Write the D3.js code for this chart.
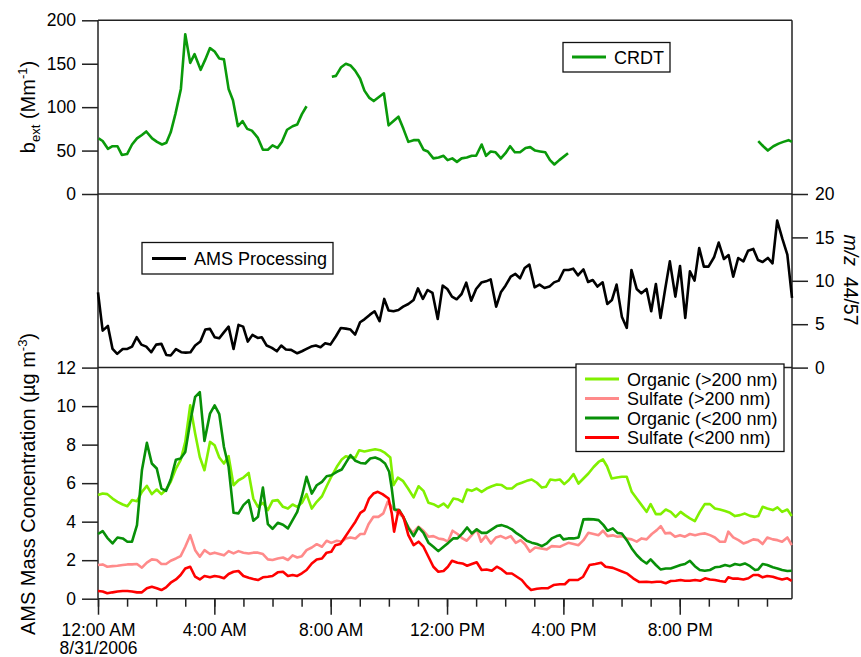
<!DOCTYPE html>
<html>
<head>
<meta charset="utf-8">
<script src="https://cdn.jsdelivr.net/npm/d3@7"></script>
<style>
  body { margin: 0; background: #fff; }
  svg text { font-family: "Liberation Sans", Arial, Helvetica, sans-serif; fill: #000; }
</style>
</head>
<body>
<div id="chart"></div>
<script>
// each point is [hours after midnight 8/31/2006, value]; null = no data
const crdt = [[0.02,64],[0.16,61],[0.34,52],[0.5,55],[0.67,55],[0.82,45],[1.0,46],[1.17,57],[1.34,64],[1.51,68],[1.66,72],[1.86,64],[2.03,60],[2.2,57],[2.35,59],[2.5,71],[2.66,92],[2.85,121],[3.0,184],[3.17,151],[3.32,161],[3.53,143],[3.69,155],[3.85,168],[4.01,164],[4.17,156],[4.33,155],[4.49,121],[4.64,108],[4.81,78],[4.97,84],[5.13,75],[5.29,73],[5.49,65],[5.67,51],[5.84,51],[6.0,56],[6.17,53],[6.32,60],[6.5,74],[6.69,78],[6.85,80],[7.01,92],[7.17,101],
  [7.6,null],
  [8.04,135],[8.18,136],[8.36,146],[8.52,150],[8.68,148],[8.84,142],[9.01,133],[9.16,119],[9.32,111],[9.48,107],[9.67,112],[9.83,116],[9.99,79],[10.16,84],[10.33,89],[10.5,75],[10.67,60],[10.85,62],[11.02,62],[11.19,51],[11.34,49],[11.53,41],[11.71,42],[11.88,44],[12.02,39],[12.18,41],[12.34,37],[12.5,41],[12.68,42],[12.85,44],[13.0,44],[13.19,57],[13.34,44],[13.5,49],[13.67,48],[13.85,41],[14.01,47],[14.17,55],[14.33,48],[14.51,48],[14.7,53],[14.86,54],[15.03,50],[15.2,49],[15.38,48],[15.54,39],[15.69,34],[15.86,39],[16.16,47],
  [19.0,null],
  [22.70,61],[22.87,55],[23.03,50],[23.22,55],[23.40,58],[23.56,60],[23.74,62],[23.86,60]];

const amsProcessing = [[0,8.67],[0.16,4.26],[0.34,4.8],[0.5,2.15],[0.66,1.58],[0.85,2.15],[1.01,2.15],[1.17,2.42],[1.33,3.5],[1.49,2.65],[1.66,2.42],[1.83,1.77],[2.0,2.65],[2.18,2.73],[2.35,1.46],[2.5,1.39],[2.68,2.12],[2.86,1.77],[3.02,1.73],[3.18,1.77],[3.34,2.54],[3.52,3.0],[3.69,4.38],[3.85,4.46],[4.01,3.5],[4.17,3.38],[4.32,4.03],[4.49,4.72],[4.66,2.15],[4.83,4.92],[4.99,4.72],[5.15,3.0],[5.31,3.77],[5.49,3.42],[5.63,3.5],[5.8,2.54],[5.98,2.27],[6.15,1.88],[6.3,2.54],[6.46,2.08],[6.64,2.04],[6.85,1.65],[7.01,1.88],[7.17,2.15],[7.33,2.42],[7.49,2.54],[7.65,2.34],[7.81,2.8],[7.99,2.65],[8.18,3.61],[8.35,4.57],[8.52,4.49],[8.68,4.38],[8.84,3.8],[9.01,5.22],[9.16,5.56],[9.35,6.1],[9.51,6.49],[9.68,5.34],[9.84,7.91],[9.99,6.57],[10.16,6.49],[10.33,6.64],[10.49,7.02],[10.67,7.33],[10.85,7.79],[11.0,9.13],[11.17,7.91],[11.33,8.94],[11.5,8.6],[11.68,5.6],[11.85,9.44],[12.01,9.06],[12.17,8.18],[12.33,7.87],[12.5,8.48],[12.66,9.79],[12.83,7.71],[13.0,9.06],[13.18,9.79],[13.34,9.94],[13.5,10.17],[13.69,7.02],[13.85,8.67],[14.01,9.44],[14.19,10.48],[14.35,10.79],[14.51,10.29],[14.67,11.48],[14.83,11.86],[15.01,9.25],[15.18,9.56],[15.35,9.17],[15.52,9.33],[15.68,9.82],[15.84,10.02],[16.02,11.25],[16.18,11.25],[16.34,11.4],[16.5,10.63],[16.69,11.32],[16.85,9.86],[17.01,10.09],[17.17,9.33],[17.35,9.82],[17.51,7.33],[17.67,7.79],[17.83,9.56],[18.01,5.87],[18.18,4.57],[18.34,11.25],[18.52,9.06],[18.68,8.56],[18.86,9.06],[19.02,6.49],[19.18,9.63],[19.34,5.72],[19.5,9.06],[19.66,12.24],[19.85,8.18],[20.01,11.71],[20.19,5.72],[20.35,11.09],[20.51,10.02],[20.67,13.78],[20.83,11.63],[20.99,11.63],[21.18,12.71],[21.34,14.4],[21.52,12.51],[21.68,12.97],[21.84,10.48],[22.01,12.63],[22.19,12.24],[22.35,13.47],[22.53,13.67],[22.69,12.4],[22.85,12.17],[23.03,12.63],[23.19,12.01],[23.35,16.93],[23.53,14.82],[23.7,13.01],[23.86,8.02]];

const organicLarge = [[0,5.38],[0.16,5.46],[0.32,5.43],[0.5,5.2],[0.67,5.03],[0.85,4.89],[1.01,4.8],[1.17,5.12],[1.34,5.06],[1.51,5.55],[1.68,5.86],[1.85,5.43],[2.02,5.67],[2.18,5.43],[2.34,5.67],[2.5,6.07],[2.68,6.76],[2.84,7.19],[3.0,8.14],[3.17,10.04],[3.34,8.58],[3.5,7.36],[3.66,6.67],[3.85,8.14],[4.01,7.97],[4.17,7.33],[4.33,7.02],[4.49,7.4],[4.66,5.89],[4.83,6.15],[5.0,6.29],[5.18,6.53],[5.34,5.2],[5.5,4.77],[5.67,4.98],[5.84,4.6],[6.0,5.08],[6.18,5.12],[6.36,4.77],[6.53,4.68],[6.69,4.89],[6.85,4.77],[7.01,4.98],[7.17,5.43],[7.35,4.68],[7.52,5.03],[7.7,5.32],[7.86,5.84],[8.02,6.33],[8.21,6.85],[8.38,7.23],[8.52,7.4],[8.68,7.33],[8.85,7.33],[8.98,7.71],[9.16,7.64],[9.36,7.71],[9.53,7.76],[9.7,7.71],[9.87,7.57],[10.05,7.33],[10.16,5.9],[10.31,6.29],[10.48,6.12],[10.66,5.72],[10.85,5.26],[11.02,5.84],[11.19,5.6],[11.36,4.98],[11.53,4.91],[11.7,4.77],[11.88,4.94],[12.03,4.74],[12.22,5.2],[12.39,5.15],[12.53,5.03],[12.69,5.67],[12.85,5.6],[13.02,5.72],[13.19,5.55],[13.36,5.72],[13.54,5.84],[13.71,5.93],[13.88,5.9],[14.05,5.72],[14.23,5.72],[14.4,5.93],[14.57,6.02],[14.74,6.12],[14.91,6.19],[15.09,6.02],[15.26,5.77],[15.4,5.81],[15.55,6.19],[15.72,6.15],[15.88,6.19],[16.03,5.95],[16.19,6.16],[16.35,6.47],[16.52,5.98],[16.69,6.24],[16.86,6.5],[17.04,6.84],[17.21,7.1],[17.36,7.23],[17.5,6.88],[17.66,6.24],[17.84,6.29],[18.01,6.33],[18.18,6.33],[18.35,5.55],[18.52,5.2],[18.69,4.86],[18.86,4.51],[19.0,4.91],[19.18,4.39],[19.34,4.39],[19.52,4.63],[19.69,4.51],[19.86,4.25],[20.03,4.51],[20.18,4.34],[20.35,4.17],[20.52,4.03],[20.69,4.51],[20.86,4.91],[21.04,4.91],[21.21,4.68],[21.38,4.63],[21.56,4.55],[21.73,4.46],[21.9,4.29],[22.07,4.34],[22.24,4.42],[22.42,4.3],[22.59,4.25],[22.7,4.29],[22.85,4.77],[23.01,4.68],[23.2,4.6],[23.36,4.74],[23.52,4.51],[23.7,4.63],[23.85,4.29]];

const sulfateLarge = [[0,1.75],[0.16,1.78],[0.32,1.66],[0.5,1.69],[0.67,1.71],[0.85,1.75],[1.01,1.78],[1.17,1.78],[1.34,1.8],[1.51,1.61],[1.68,1.87],[1.85,2.04],[2.02,2.01],[2.18,1.8],[2.34,1.8],[2.5,1.97],[2.68,2.09],[2.84,2.21],[3.0,2.7],[3.17,3.3],[3.34,2.52],[3.5,2.18],[3.66,2.52],[3.85,2.32],[4.01,2.39],[4.17,2.32],[4.33,2.25],[4.49,2.47],[4.66,2.35],[4.83,2.47],[5.0,2.39],[5.18,2.35],[5.34,2.39],[5.5,2.39],[5.67,2.32],[5.84,2.04],[6.0,2.01],[6.18,2.09],[6.36,2.14],[6.53,2.01],[6.69,2.25],[6.85,2.14],[7.01,2.21],[7.17,2.52],[7.35,2.66],[7.52,2.83],[7.7,2.7],[7.86,3.01],[8.02,2.9],[8.21,3.01],[8.38,2.96],[8.52,3.13],[8.68,3.18],[8.85,3.13],[9.02,3.36],[9.16,3.36],[9.3,3.87],[9.47,4.25],[9.64,4.25],[9.81,4.43],[9.96,5.03],[10.1,4.77],[10.27,4.51],[10.48,4.25],[10.66,3.74],[10.82,3.42],[11.02,3.74],[11.19,3.53],[11.36,3.22],[11.53,3.25],[11.7,3.13],[11.88,3.08],[12.03,2.96],[12.19,3.53],[12.36,3.36],[12.53,3.13],[12.68,3.01],[12.85,3.3],[13.02,3.6],[13.17,2.96],[13.33,3.25],[13.51,2.87],[13.68,3.18],[13.85,3.25],[14.02,3.13],[14.19,3.25],[14.36,2.9],[14.53,3.04],[14.68,2.83],[14.85,2.44],[15.03,2.66],[15.23,2.61],[15.43,2.56],[15.6,2.73],[15.88,2.7],[16.0,2.78],[16.17,2.9],[16.35,2.84],[16.52,2.78],[16.69,3.04],[16.86,3.42],[17.04,3.36],[17.21,3.3],[17.36,3.53],[17.52,3.25],[17.7,3.29],[17.86,3.22],[18.01,3.25],[18.18,3.13],[18.35,3.08],[18.52,2.96],[18.69,3.13],[18.86,3.08],[19.04,3.36],[19.21,3.56],[19.35,3.77],[19.5,3.39],[19.67,3.42],[19.84,3.22],[20.01,3.3],[20.18,3.22],[20.35,3.36],[20.53,3.3],[20.7,3.36],[20.87,3.39],[21.04,3.3],[21.21,3.18],[21.38,2.96],[21.56,2.96],[21.67,3.48],[21.84,3.18],[22.02,3.04],[22.19,2.87],[22.36,2.96],[22.53,3.08],[22.7,3.04],[22.85,2.84],[23.01,3.18],[23.2,3.08],[23.36,3.04],[23.52,2.96],[23.7,3.18],[23.85,2.78]];

const organicSmall = [[0,3.36],[0.16,3.51],[0.32,3.16],[0.5,2.87],[0.67,3.18],[0.85,3.13],[1.01,2.96],[1.17,2.96],[1.34,3.82],[1.51,6.67],[1.68,8.09],[1.85,7.02],[2.02,6.76],[2.18,5.72],[2.34,5.6],[2.5,6.19],[2.68,7.22],[2.84,7.28],[3.0,7.62],[3.17,9.18],[3.34,10.48],[3.5,10.72],[3.66,8.19],[3.85,9.61],[4.01,10.04],[4.17,9.58],[4.33,7.88],[4.49,6.85],[4.66,4.46],[4.83,4.43],[5.0,4.86],[5.18,5.12],[5.34,4.05],[5.5,4.25],[5.67,5.77],[5.84,3.87],[6.0,3.63],[6.18,3.94],[6.36,3.84],[6.53,3.65],[6.69,4.08],[6.85,4.51],[7.01,5.32],[7.17,6.33],[7.35,5.46],[7.52,5.89],[7.7,6.07],[7.86,6.36],[8.02,6.41],[8.21,6.59],[8.38,6.71],[8.52,7.05],[8.68,7.45],[8.85,7.16],[9.02,7.05],[9.19,7.02],[9.36,7.28],[9.53,7.33],[9.7,7.23],[9.87,7.02],[10.01,6.59],[10.1,5.72],[10.19,4.63],[10.36,4.6],[10.52,4.17],[10.68,3.65],[10.85,3.25],[11.02,3.7],[11.19,3.42],[11.36,2.91],[11.53,2.7],[11.7,2.47],[11.88,2.7],[12.05,2.91],[12.21,3.13],[12.36,3.13],[12.53,3.39],[12.69,3.7],[12.85,3.39],[13.02,3.6],[13.19,3.42],[13.36,3.42],[13.54,3.6],[13.71,3.77],[13.88,3.82],[14.05,3.74],[14.23,3.6],[14.4,3.39],[14.57,3.22],[14.74,3.01],[14.91,2.91],[15.09,2.84],[15.26,2.73],[15.43,2.87],[15.6,3.13],[15.77,3.25],[15.88,3.3],[16.0,3.08],[16.17,3.13],[16.35,3.13],[16.52,3.18],[16.69,4.12],[16.86,4.13],[17.04,4.12],[17.21,4.08],[17.38,3.82],[17.52,3.53],[17.7,3.65],[17.86,3.42],[18.01,3.39],[18.18,3.04],[18.35,2.61],[18.52,2.27],[18.69,2.01],[18.86,1.83],[19.0,2.04],[19.18,1.75],[19.34,1.52],[19.52,1.57],[19.69,1.57],[19.86,1.66],[20.03,1.75],[20.18,1.8],[20.35,1.97],[20.52,1.69],[20.69,1.49],[20.86,1.45],[21.04,1.49],[21.21,1.63],[21.38,1.66],[21.56,1.75],[21.73,1.69],[21.9,1.8],[22.07,1.75],[22.24,1.83],[22.42,1.69],[22.59,1.49],[22.7,1.52],[22.85,1.8],[23.01,1.75],[23.2,1.63],[23.36,1.57],[23.52,1.49],[23.7,1.44],[23.85,1.45]];

const sulfateSmall = [[0,0.4],[0.16,0.37],[0.32,0.28],[0.5,0.33],[0.67,0.37],[0.85,0.4],[1.01,0.4],[1.17,0.37],[1.34,0.33],[1.51,0.33],[1.68,0.54],[1.85,0.62],[2.02,0.54],[2.18,0.45],[2.34,0.59],[2.5,0.83],[2.68,1.0],[2.84,1.23],[3.0,1.57],[3.17,1.66],[3.34,1.14],[3.5,1.0],[3.66,1.18],[3.85,1.11],[4.01,1.18],[4.17,1.14],[4.33,1.06],[4.49,1.28],[4.66,1.4],[4.83,1.44],[5.0,1.18],[5.18,1.09],[5.34,1.02],[5.5,0.97],[5.67,1.11],[5.84,1.14],[6.0,1.18],[6.18,1.37],[6.36,1.4],[6.53,1.18],[6.69,1.23],[6.85,1.18],[7.01,1.32],[7.17,1.49],[7.35,1.83],[7.52,2.04],[7.7,2.09],[7.86,2.39],[8.02,2.44],[8.16,2.78],[8.33,2.84],[8.5,3.22],[8.67,3.6],[8.85,4.0],[9.02,4.46],[9.16,4.6],[9.32,5.2],[9.47,5.46],[9.62,5.55],[9.78,5.43],[9.99,5.2],[10.1,4.43],[10.18,3.48],[10.33,4.6],[10.5,4.25],[10.67,3.3],[10.85,2.78],[11.02,2.96],[11.19,2.7],[11.36,2.18],[11.53,1.66],[11.7,1.4],[11.88,1.44],[12.03,1.66],[12.17,1.97],[12.36,1.87],[12.53,1.83],[12.69,1.71],[12.85,1.8],[13.02,1.89],[13.19,1.49],[13.36,1.52],[13.54,1.45],[13.71,1.66],[13.88,1.52],[14.05,1.31],[14.23,1.31],[14.4,1.14],[14.57,0.97],[14.74,0.66],[14.89,0.45],[15.09,0.52],[15.26,0.54],[15.46,0.54],[15.66,0.71],[15.88,0.75],[16.05,0.75],[16.2,0.97],[16.5,0.97],[16.68,1.14],[16.9,1.75],[17.1,1.8],[17.3,1.87],[17.45,1.66],[17.7,1.6],[17.95,1.45],[18.2,1.3],[18.4,1.06],[18.6,0.87],[18.86,0.88],[19.04,0.85],[19.21,0.88],[19.35,0.88],[19.52,0.8],[19.69,0.92],[19.86,0.93],[20.03,0.97],[20.18,0.93],[20.35,0.93],[20.53,0.97],[20.7,0.93],[20.87,1.06],[21.04,1.0],[21.21,0.97],[21.38,0.92],[21.56,0.88],[21.67,1.11],[21.84,1.04],[22.02,1.04],[22.19,1.0],[22.36,1.06],[22.53,1.23],[22.7,1.23],[22.85,1.11],[23.01,1.18],[23.2,1.14],[23.36,1.06],[23.52,1.0],[23.7,1.06],[23.85,0.93]];

const bextTicks = [0, 50, 100, 150, 200];
const ratioTicks = [0, 5, 10, 15, 20];
const massTicks = [0, 2, 4, 6, 8, 10, 12];
const massNames = ["Organic (>200 nm)", "Sulfate (>200 nm)", "Organic (<200 nm)", "Sulfate (<200 nm)"];
const massData = [organicLarge, sulfateLarge, organicSmall, sulfateSmall];
const massColors = ["#80f000", "#ff8a8a", "#089008", "#ff0000"];
const crdtColor = "#0a9a0a";
const startDay = new Date(2006, 7, 31, 0, 0);
const endHour = 23.86;

var width = 861, height = 657;
var xLeft = 98, xRight = 792;
var yTop = 20.3, yMid1 = 194, yMid2 = 367.6, yBottom = 598.7;
var frameColor = "#222";

function toDate(h) { return new Date(startDay.getTime() + h * 3600 * 1000); }

var svg = d3.select("#chart").append("svg")
    .attr("width", width)
    .attr("height", height);

// scales
var x = d3.scaleTime().domain([startDay, toDate(endHour)]).range([xLeft, xRight]);
var yBext = d3.scaleLinear().domain([0, 200]).range([yMid1, yTop]);
var yRatio = d3.scaleLinear().domain([0, 20]).range([yMid2, yMid1]);
var yMass = d3.scaleLinear().domain([0, 12]).range([yBottom, yMid2]);

function styleAxis(g, size) {
    g.select(".domain").remove();
    g.selectAll(".tick line").attr("stroke", frameColor).attr("stroke-width", 1.5);
    g.selectAll(".tick text").style("font-size", size || "17.5px").attr("fill", "#000");
}

// left axes
svg.append("g")
    .attr("transform", `translate(${xLeft},0)`)
    .call(d3.axisLeft(yBext).tickValues(bextTicks).tickSize(16).tickPadding(6))
    .call(g => styleAxis(g));

svg.append("g")
    .attr("transform", `translate(${xLeft},0)`)
    .call(d3.axisLeft(yMass).tickValues(massTicks).tickSize(16).tickPadding(6))
    .call(g => styleAxis(g));

// right axis for middle panel
svg.append("g")
    .attr("transform", `translate(${xRight},0)`)
    .call(d3.axisRight(yRatio).tickValues(ratioTicks).tickSize(16).tickPadding(7))
    .call(g => styleAxis(g));

// bottom time axis, minor hourly ticks then labelled 4h ticks
svg.append("g")
    .attr("transform", `translate(0,${yBottom})`)
    .call(d3.axisBottom(x).ticks(d3.timeHour.every(1)).tickSize(8).tickFormat(""))
    .call(g => styleAxis(g));

var timeAxis = svg.append("g")
    .attr("transform", `translate(0,${yBottom})`)
    .call(d3.axisBottom(x).ticks(d3.timeHour.every(4)).tickSize(16).tickPadding(9)
        .tickFormat(d3.timeFormat("%-I:%M %p")))
    .call(g => styleAxis(g));

// date goes as a second line under the first time label
timeAxis.selectAll(".tick text")
    .filter(d => +d === +startDay)
    .append("tspan")
    .attr("x", 0)
    .attr("dy", "1.02em")
    .text(d3.timeFormat("%-m/%d/%Y")(startDay));

// frame lines
[yTop, yMid1, yMid2, yBottom].forEach(function(yy) {
    svg.append("line")
        .attr("x1", xLeft).attr("x2", xRight)
        .attr("y1", yy).attr("y2", yy)
        .attr("stroke", frameColor).attr("stroke-width", 1.5);
});
[xLeft, xRight].forEach(function(xx) {
    svg.append("line")
        .attr("x1", xx).attr("x2", xx)
        .attr("y1", yTop).attr("y2", yBottom)
        .attr("stroke", frameColor).attr("stroke-width", 1.5);
});

// data lines
function lineFor(yScale) {
    return d3.line()
        .defined(d => d[1] != null)
        .x(d => x(toDate(d[0])))
        .y(d => yScale(d[1]));
}

svg.append("path")
    .datum(crdt)
    .attr("d", lineFor(yBext))
    .attr("fill", "none")
    .attr("stroke", crdtColor)
    .attr("stroke-width", 2.6)
    .attr("stroke-linejoin", "round");

svg.append("path")
    .datum(amsProcessing)
    .attr("d", lineFor(yRatio))
    .attr("fill", "none")
    .attr("stroke", "#000")
    .attr("stroke-width", 2.6)
    .attr("stroke-linejoin", "round");

massData.forEach(function(series, i) {
    svg.append("path")
        .datum(series)
        .attr("d", lineFor(yMass))
        .attr("fill", "none")
        .attr("stroke", massColors[i])
        .attr("stroke-width", 2.6)
        .attr("stroke-linejoin", "round");
});

// legends
function legendBox(x0, y0, w, h) {
    svg.append("rect")
        .attr("x", x0).attr("y", y0)
        .attr("width", w).attr("height", h)
        .attr("fill", "#fff")
        .attr("stroke", "#111")
        .attr("stroke-width", 1.3);
}
function legendRow(x0, yy, color, label) {
    svg.append("line")
        .attr("x1", x0).attr("x2", x0 + 34)
        .attr("y1", yy).attr("y2", yy)
        .attr("stroke", color).attr("stroke-width", 2.8);
    svg.append("text")
        .attr("x", x0 + 42).attr("y", yy + 6.5)
        .style("font-size", "18px")
        .text(label);
}

legendBox(563, 42.5, 107, 29.5);
legendRow(572, 57, crdtColor, "CRDT");

legendBox(142, 242.5, 191, 31.5);
legendRow(152, 258.5, "#000", "AMS Processing");

legendBox(576, 364, 208, 87.5);
massNames.forEach(function(name, i) {
    legendRow(585, 379 + i * 19.5, massColors[i], name);
});

// axis titles
var bextLabel = svg.append("text")
    .attr("transform", "translate(35,107) rotate(-90)")
    .attr("text-anchor", "middle")
    .style("font-size", "20px");
bextLabel.append("tspan").text("b");
bextLabel.append("tspan").attr("dy", 5).style("font-size", "13px").text("ext");
bextLabel.append("tspan").attr("dy", -5).text(" (Mm");
bextLabel.append("tspan").attr("dy", -8).style("font-size", "13px").text("-1");
bextLabel.append("tspan").attr("dy", 8).text(")");

var massLabel = svg.append("text")
    .attr("transform", "translate(35,484) rotate(-90)")
    .attr("text-anchor", "middle")
    .style("font-size", "20px");
massLabel.append("tspan").text("AMS Mass Concentration (\u00b5g m");
massLabel.append("tspan").attr("dy", -8).style("font-size", "13px").text("-3");
massLabel.append("tspan").attr("dy", 8).text(")");

var ratioLabel = svg.append("text")
    .attr("transform", "translate(844,280) rotate(90)")
    .attr("text-anchor", "middle")
    .style("font-size", "19.5px");
ratioLabel.append("tspan").style("font-style", "italic").text("m/z");
ratioLabel.append("tspan").text("\u00a0\u00a044/57");
</script>
</body>
</html>
